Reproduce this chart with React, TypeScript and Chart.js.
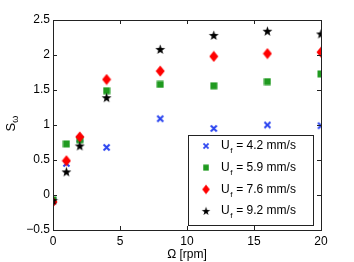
import React, { useEffect, useRef } from 'react';
import { Chart, registerables } from 'chart.js';
Chart.register(...registerables);

const omega = [0, 1, 2, 4, 8, 12, 16, 20];
const s42 = [-0.08, 0.45, 0.8, 0.68, 1.09, 0.95, 1.0, 0.99];
const s59 = [-0.07, 0.73, 0.79, 1.49, 1.58, 1.56, 1.62, 1.73];
const s76 = [-0.1, 0.49, 0.83, 1.65, 1.77, 1.98, 2.02, 2.04];
const s92 = [-0.08, 0.33, 0.7, 1.39, 2.08, 2.28, 2.34, 2.3];
const seriesLabels = ['4.2', '5.9', '7.6', '9.2'];
const xTicks = [0, 5, 10, 15, 20];
const yTicks = [-0.5, 0, 0.5, 1, 1.5, 2, 2.5];

const FONT = '"Liberation Sans", Arial, Helvetica, sans-serif';

function mk(w: number, h: number, draw: (c: CanvasRenderingContext2D) => void) {
  const c = document.createElement('canvas');
  c.width = w;
  c.height = h;
  const ctx = c.getContext('2d')!;
  draw(ctx);
  return c;
}

function makeCross(color: string) {
  return mk(9, 9, (c) => {
    c.strokeStyle = color;
    c.lineWidth = 2;
    c.beginPath();
    c.moveTo(1.5, 1.5);
    c.lineTo(7.5, 7.5);
    c.moveTo(7.5, 1.5);
    c.lineTo(1.5, 7.5);
    c.stroke();
  });
}
function makeSquare(color: string) {
  return mk(8, 8, (c) => {
    c.fillStyle = color;
    c.fillRect(0.5, 0.5, 7, 7);
  });
}
function makeDiamond(color: string) {
  return mk(10, 12, (c) => {
    c.fillStyle = color;
    c.beginPath();
    c.moveTo(5, 0.5);
    c.lineTo(9.5, 6);
    c.lineTo(5, 11.5);
    c.lineTo(0.5, 6);
    c.closePath();
    c.fill();
  });
}
function makeStar(color: string) {
  return mk(11, 11, (c) => {
    c.fillStyle = color;
    c.beginPath();
    const cx = 5.5, cy = 5.8, R = 5.2, r = 2.1;
    for (let i = 0; i < 10; i++) {
      const a = -Math.PI / 2 + (i * Math.PI) / 5;
      const rad = i % 2 === 0 ? R : r;
      const px = cx + rad * Math.cos(a);
      const py = cy + rad * Math.sin(a);
      if (i === 0) c.moveTo(px, py);
      else c.lineTo(px, py);
    }
    c.closePath();
    c.fill();
  });
}

export default function App() {
  const ref = useRef<HTMLCanvasElement>(null);
  useEffect(() => {
    document.body.style.margin = '0';
    const markers = [
      makeCross('#2a44f0'),
      makeSquare('#1f9a1f'),
      makeDiamond('#ff0000'),
      makeStar('#000000'),
    ];
    const all = [s42, s59, s76, s92];
    const datasets = all.map((s, k) => ({
      label: seriesLabels[k],
      data: omega.map((x, i) => ({ x, y: s[i] })),
      pointStyle: markers[k] as any,
      pointRadius: 5,
      showLine: false,
      order: 4 - k,
    }));

    const framePlugin = {
      id: 'framePlugin',
      afterDraw(chart: any) {
        const ctx = chart.ctx as CanvasRenderingContext2D;
        const { left, right, top, bottom } = chart.chartArea;
        const xs = chart.scales.x;
        const ys = chart.scales.y;
        ctx.save();
        ctx.strokeStyle = '#222';
        ctx.lineWidth = 1;
        ctx.strokeRect(Math.round(left) + 0.5, Math.round(top) + 0.5, Math.round(right - left), Math.round(bottom - top));
        ctx.beginPath();
        const tl = 4;
        xTicks.forEach((v) => {
          const px = Math.round(xs.getPixelForValue(v)) + 0.5;
          ctx.moveTo(px, bottom);
          ctx.lineTo(px, bottom - tl);
          ctx.moveTo(px, top);
          ctx.lineTo(px, top + tl);
        });
        yTicks.forEach((v) => {
          const py = Math.round(ys.getPixelForValue(v)) + 0.5;
          ctx.moveTo(left, py);
          ctx.lineTo(left + tl, py);
          ctx.moveTo(right, py);
          ctx.lineTo(right - tl, py);
        });
        ctx.stroke();

        // y axis title S_ω
        ctx.fillStyle = '#000';
        ctx.translate(14.6, 124);
        ctx.rotate(-Math.PI / 2);
        ctx.textBaseline = 'alphabetic';
        ctx.textAlign = 'left';
        ctx.font = `13px ${FONT}`;
        ctx.fillText('S', -7.5, 0);
        const sw = ctx.measureText('S').width;
        ctx.font = `9px ${FONT}`;
        ctx.fillText('ω', -7.5 + sw, 3);
        ctx.restore();

        // legend
        ctx.save();
        const lx = 188, ly = 135, lw = 125, lh = 90;
        ctx.fillStyle = '#fff';
        ctx.fillRect(lx, ly, lw, lh);
        ctx.strokeStyle = '#222';
        ctx.lineWidth = 1;
        ctx.strokeRect(lx + 0.5, ly + 0.5, lw, lh);
        ctx.fillStyle = '#000';
        ctx.textBaseline = 'middle';
        ctx.textAlign = 'left';
        seriesLabels.forEach((lab, i) => {
          const y = 146 + i * 21.7;
          const m = markers[i];
          const sc = 0.85;
          ctx.drawImage(m, 206 - (m.width * sc) / 2, y - (m.height * sc) / 2, m.width * sc, m.height * sc);
          let x = 221;
          ctx.font = `12px ${FONT}`;
          ctx.fillText('U', x, y);
          x += ctx.measureText('U').width;
          ctx.font = `8px ${FONT}`;
          ctx.fillText('f', x + 0.5, y + 5);
          x += ctx.measureText('f').width + 1;
          ctx.font = `12px ${FONT}`;
          ctx.fillText(` = ${lab} mm/s`, x, y);
        });
        ctx.restore();
      },
    };

    const tickFont = { family: FONT, size: 12 };
    const chart = new Chart(ref.current!, {
      type: 'scatter',
      data: { datasets },
      options: {
        animation: false,
        responsive: false,
        devicePixelRatio: 1,
        layout: { padding: { top: 20, right: 33, left: 0, bottom: 0 } },
        plugins: { legend: { display: false }, tooltip: { enabled: false } },
        scales: {
          x: {
            type: 'linear',
            min: 0,
            max: 20,
            afterBuildTicks: (s: any) => {
              s.ticks = xTicks.map((v) => ({ value: v }));
            },
            afterFit: (s: any) => {
              s.height = 32;
            },
            grid: { display: false, drawTicks: false },
            border: { display: false },
            ticks: { font: tickFont, color: '#000', padding: 4, maxRotation: 0, callback: (v: any) => String(v) },
            title: { display: true, text: 'Ω [rpm]', font: { family: FONT, size: 12 }, color: '#000', padding: { top: 0, bottom: 0 } },
          },
          y: {
            type: 'linear',
            min: -0.5,
            max: 2.5,
            afterBuildTicks: (s: any) => {
              s.ticks = yTicks.map((v) => ({ value: v }));
            },
            afterFit: (s: any) => {
              s.width = 53;
            },
            grid: { display: false, drawTicks: false },
            border: { display: false },
            ticks: {
              font: tickFont,
              color: '#000',
              padding: 3,
              callback: (v: any) => (v < 0 ? '−' + Math.abs(v) : String(v)),
            },
          },
        },
      },
      plugins: [framePlugin],
    });
    return () => chart.destroy();
  }, []);
  return (
    <div style={{ position: 'fixed', left: 0, top: 0, width: 354, height: 262, background: '#fff' }}>
      <canvas ref={ref} width={354} height={262} />
    </div>
  );
}
